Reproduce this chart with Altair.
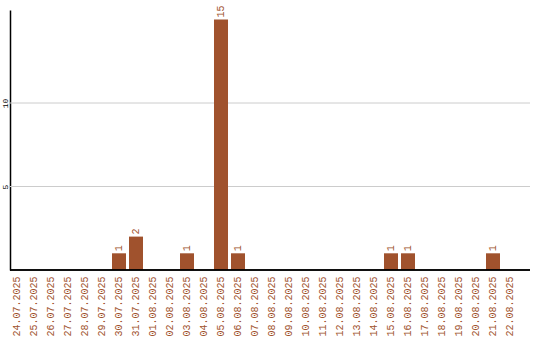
import altair as alt
import pandas as pd

dates = ["24.07.2025", "25.07.2025", "26.07.2025", "27.07.2025", "28.07.2025",
         "29.07.2025", "30.07.2025", "31.07.2025", "01.08.2025", "02.08.2025",
         "03.08.2025", "04.08.2025", "05.08.2025", "06.08.2025", "07.08.2025",
         "08.08.2025", "09.08.2025", "10.08.2025", "11.08.2025", "12.08.2025",
         "13.08.2025", "14.08.2025", "15.08.2025", "16.08.2025", "17.08.2025",
         "18.08.2025", "19.08.2025", "20.08.2025", "21.08.2025", "22.08.2025"]
counts = [0, 0, 0, 0, 0, 0, 1, 2, 0, 0, 1, 0, 15, 1, 0,
          0, 0, 0, 0, 0, 0, 0, 1, 1, 0, 0, 0, 0, 1, 0]
grid_values = [5, 10]

df = pd.DataFrame({"date": dates, "count": counts})
df["label"] = [str(c) if c > 0 else "" for c in counts]
grid_df = pd.DataFrame({"g": grid_values})

FONT = "Liberation Mono"
BROWN = "#A0522D"

x_enc = alt.X("date:N", sort=dates, title=None,
              scale=alt.Scale(paddingInner=0.176, paddingOuter=0),
              axis=alt.Axis(labelAngle=270, labelFont=FONT, labelFontSize=10,
                            labelColor=BROWN, ticks=False, domain=False,
                            labelPadding=6, grid=False))
y_scale = alt.Scale(domain=[0, 15.57], nice=False, zero=True)

grid = alt.Chart(grid_df).mark_rule(color="#cccccc", strokeWidth=1).encode(
    y=alt.Y("g:Q", scale=y_scale),
    x=alt.value(0), x2=alt.value(520)
)

bars = alt.Chart(df).mark_bar(color=BROWN).encode(
    x=x_enc,
    y=alt.Y("count:Q", scale=y_scale, title=None,
            axis=alt.Axis(values=[5, 10], labelAngle=270, labelFont=FONT,
                          labelFontSize=8, labelColor="black", ticks=False,
                          domainColor="black", domainWidth=1.5, grid=False,
                          labelPadding=1)),
)

texts = alt.Chart(df).mark_text(angle=270, align="left", baseline="middle",
                                font=FONT, fontSize=10, color=BROWN, dx=2).encode(
    x=alt.X("date:N", sort=dates),
    y=alt.Y("count:Q", scale=y_scale),
    text="label:N"
)

baseline = alt.Chart(grid_df).mark_rule(color="black", strokeWidth=1.5).encode(
    y=alt.value(260), x=alt.value(0), x2=alt.value(520)
)

chart = alt.layer(grid, bars, texts, baseline).properties(
    width=507, height=260,
    autosize=alt.AutoSizeParams(type="none"),
    padding={"left": 10, "top": 10, "right": 23, "bottom": 70},
).configure_view(stroke=None)

chart.save("out.html", embed_options={"renderer": "svg", "actions": False})
